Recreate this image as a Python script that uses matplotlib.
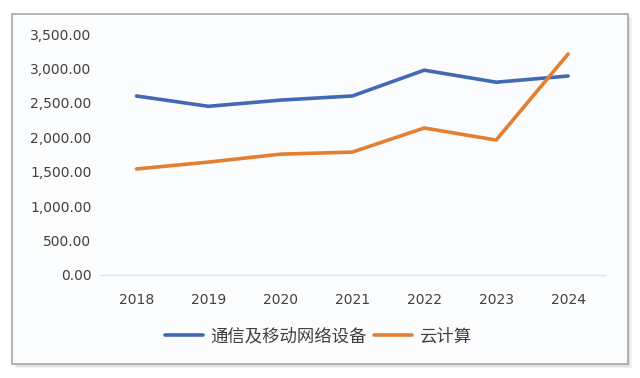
import matplotlib
matplotlib.use('Agg')
import matplotlib.pyplot as plt
from matplotlib.patches import Rectangle

plt.rcParams['font.family'] = ['Noto Sans CJK SC', 'DejaVu Sans']

# data
years = [2018, 2019, 2020, 2021, 2022, 2023, 2024]
telecom = [2600, 2450, 2540, 2600, 2975, 2800, 2890]
cloud = [1540, 1640, 1755, 1785, 2135, 1960, 3210]
series_names = ['通信及移动网络设备', '云计算']
yticks = [0, 500, 1000, 1500, 2000, 2500, 3000, 3500]

fig = plt.figure(figsize=(6.4, 3.78), dpi=100)
fig.patch.set_facecolor('white')

# framed chart box with a soft shadow
for off, a in [(0.006, 0.10), (0.004, 0.15), (0.002, 0.25)]:
    fig.patches.append(Rectangle((0.019 + off, 0.037 - off * 1.7), 0.962, 0.926,
                                 transform=fig.transFigure, facecolor='#808080',
                                 alpha=a, edgecolor='none', zorder=-3))
fig.patches.append(Rectangle((0.019, 0.037), 0.962, 0.926, transform=fig.transFigure,
                             facecolor='#fbfcfe', edgecolor='#a8a8a8', linewidth=1.2,
                             zorder=-2))

ax = fig.add_axes([0.156, 0.2725, 0.789, 0.6375])
ax.set_zorder(2)
ax.set_facecolor('none')
ax.plot(years, telecom, color='#4169b4', linewidth=2.6, label=series_names[0],
        solid_capstyle='round')
ax.plot(years, cloud, color='#e57f30', linewidth=2.6, label=series_names[1],
        solid_capstyle='round')

ax.set_xlim(2017.49, 2024.51)
ax.set_ylim(0, 3500)
ax.set_yticks(yticks)
ax.set_yticklabels([f'{v:,.2f}' for v in yticks], family='DejaVu Sans')
ax.set_xticks(years)
ax.set_xticklabels([str(y) for y in years], family='DejaVu Sans')

for s in ['top', 'right', 'left']:
    ax.spines[s].set_visible(False)
ax.spines['bottom'].set_color('#e0e3e8')
ax.spines['bottom'].set_linewidth(1)
ax.tick_params(axis='both', length=0, labelsize=10, colors='#404040')
ax.tick_params(axis='x', pad=13)
ax.tick_params(axis='y', pad=6)

fig.legend(loc='center', bbox_to_anchor=(0.497, 0.11), ncol=2, frameon=False,
           fontsize=12.5, handlelength=2.2, handletextpad=0.4, columnspacing=0.4,
           labelcolor='#404040')

fig.savefig('out.png', dpi=100)
